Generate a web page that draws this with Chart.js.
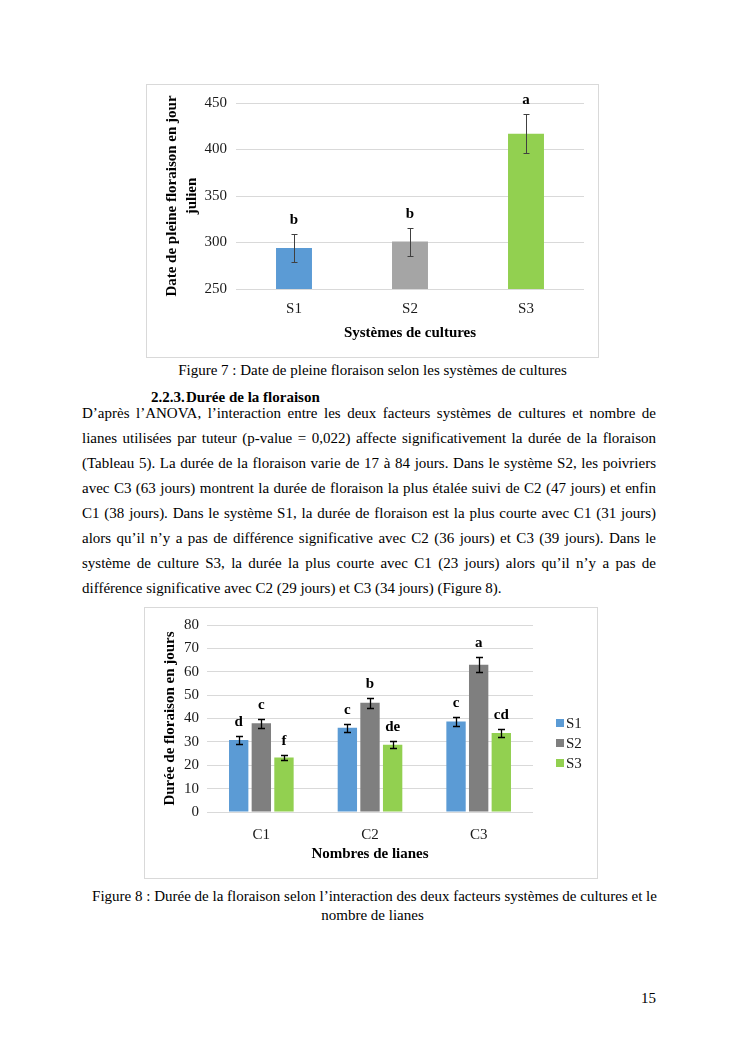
<!DOCTYPE html>
<html>
<head>
<meta charset="utf-8">
<script src="https://cdn.jsdelivr.net/npm/chart.js@4.4.0/dist/chart.umd.min.js"></script>
<style>
body { margin: 0; background: #fff; width: 745px; height: 1053px; position: relative; overflow: hidden;
       font-family: "Liberation Serif", "Times New Roman", serif; color: #000; }
canvas { position: absolute; outline: 1px solid #d9d9d9; }
.t { position: absolute; font-size: 15px; line-height: 18px; white-space: nowrap; }
.c { left: 0; width: 745px; text-align: center; }
.p { position: absolute; left: 82px; width: 574px; font-size: 15px; line-height: 18px; white-space: nowrap;
     text-align: justify; text-align-last: justify; }
.p.last { text-align-last: left; }
</style>
</head>
<body>

<canvas id="fig7" width="451" height="272" style="left:147px;top:85px"></canvas>
<div class="t c" style="top:361px">Figure 7 : Date de pleine floraison selon les systèmes de cultures</div>

<div class="t" style="top:388px;left:151px;font-weight:bold">2.2.3.</div>
<div class="t" style="top:388px;left:186px;font-weight:bold">Durée de la floraison</div>

<div class="p" style="top:404px">D’après l’ANOVA, l’interaction entre les deux facteurs systèmes de cultures et nombre de</div>
<div class="p" style="top:429px">lianes utilisées par tuteur (p-value = 0,022) affecte significativement la durée de la floraison</div>
<div class="p" style="top:454px">(Tableau 5). La durée de la floraison varie de 17 à 84 jours. Dans le système S2, les poivriers</div>
<div class="p" style="top:479px">avec C3 (63 jours) montrent la durée de floraison la plus étalée suivi de C2 (47 jours) et enfin</div>
<div class="p" style="top:504px">C1 (38 jours). Dans le système S1, la durée de floraison est la plus courte avec C1 (31 jours)</div>
<div class="p" style="top:529px">alors qu’il n’y a pas de différence significative avec C2 (36 jours) et C3 (39 jours). Dans le</div>
<div class="p" style="top:554px">système de culture S3, la durée la plus courte avec C1 (23 jours) alors qu’il n’y a pas de</div>
<div class="p last" style="top:579px">différence significative avec C2 (29 jours) et C3 (34 jours) (Figure 8).</div>

<canvas id="fig8" width="452" height="270" style="left:145px;top:608px"></canvas>
<div class="t c" style="top:887px;left:2px">Figure 8 : Durée de la floraison selon l’interaction des deux facteurs systèmes de cultures et le</div>
<div class="t c" style="top:906px">nombre de lianes</div>

<div class="t" style="top:989px;left:641px">15</div>

<script>
// Figure 7 - date de pleine floraison
const systems = ['S1', 'S2', 'S3'];
const floweringDate = [294, 301, 417];
const floweringDateErr = [15, 15, 21];
const floweringDateLetters = ['b', 'b', 'a'];

// Figure 8 - durée de floraison
const lianes = ['C1', 'C2', 'C3'];
const durationS1 = [30.8, 36, 38.7];
const durationS2 = [38, 46.7, 63];
const durationS3 = [23.3, 28.8, 33.8];
const errS1 = [1.5, 1.8, 1.8];
const errS2 = [2, 2.2, 3.2];
const errS3 = [1.2, 1.5, 1.6];
const lettersS1 = ['d', 'c', 'c'];
const lettersS2 = ['c', 'b', 'a'];
const lettersS3 = ['f', 'de', 'cd'];

const serif = '"Liberation Serif", "Times New Roman", serif';

// error bars + significance letters
const errorBars = {
    id: 'errorBars',
    afterDatasetsDraw(chart, args, opts) {
        const ctx = chart.ctx;
        const y = chart.scales.y;
        ctx.save();
        chart.data.datasets.forEach((ds, i) => {
            chart.getDatasetMeta(i).data.forEach((bar, j) => {
                const v = ds.data[j], e = ds.errors[j];
                const top = Math.round(y.getPixelForValue(v + e)) + 0.5;
                const bot = Math.round(y.getPixelForValue(v - e)) + 0.5;
                const x = Math.round(bar.x) + 0.5;
                ctx.strokeStyle = opts.color;
                ctx.lineWidth = opts.width;
                ctx.beginPath();
                ctx.moveTo(x, top); ctx.lineTo(x, bot);
                ctx.moveTo(x - opts.cap, top); ctx.lineTo(x + opts.cap, top);
                ctx.moveTo(x - opts.cap, bot); ctx.lineTo(x + opts.cap, bot);
                ctx.stroke();
                ctx.fillStyle = '#000';
                ctx.font = 'bold 15px ' + serif;
                ctx.textAlign = 'center';
                ctx.textBaseline = 'middle';
                ctx.fillText(ds.letters[j], bar.x, top - opts.lift);
            });
        });
        ctx.restore();
    }
};

// legend on the right, Excel style
const sideLegend = {
    id: 'sideLegend',
    afterDraw(chart, args, opts) {
        const ctx = chart.ctx;
        ctx.save();
        ctx.font = '15px ' + serif;
        ctx.textBaseline = 'middle';
        chart.data.datasets.forEach((ds, i) => {
            const yy = opts.y + i * opts.gap;
            ctx.fillStyle = ds.backgroundColor;
            ctx.fillRect(opts.x, yy - 4, 8, 8);
            ctx.fillStyle = '#1a1a1a';
            ctx.fillText(ds.label, opts.x + 10, yy + 1);
        });
        ctx.restore();
    }
};

new Chart(document.getElementById('fig7'), {
    type: 'bar',
    data: {
        labels: systems,
        datasets: [{
            data: floweringDate,
            errors: floweringDateErr,
            letters: floweringDateLetters,
            backgroundColor: ['#5B9BD5', '#A5A5A5', '#92D050'],
            categoryPercentage: 1,
            barPercentage: 0.31
        }]
    },
    options: {
        responsive: false,
        devicePixelRatio: 1,
        animation: false,
        layout: { padding: { top: 17, right: 14, left: 0, bottom: 0 } },
        plugins: {
            legend: { display: false },
            tooltip: { enabled: false },
            errorBars: { color: '#404040', width: 1, cap: 3, lift: 14 }
        },
        scales: {
            x: {
                grid: { display: false, drawTicks: false },
                border: { display: false },
                ticks: { color: '#1a1a1a', padding: 11, font: { family: serif, size: 15 } },
                title: { display: true, text: 'Systèmes de cultures', color: '#000',
                         padding: { top: 0, bottom: 15 }, font: { family: serif, size: 15, weight: 'bold' } },
                afterFit: s => { s.height = 68; }
            },
            y: {
                min: 250, max: 450,
                ticks: { stepSize: 50, color: '#1a1a1a', padding: 9, font: { family: serif, size: 15 } },
                grid: { color: '#d9d9d9', drawTicks: false },
                border: { display: false },
                title: { display: true, text: ['Date de pleine floraison en jour', 'julien'], color: '#000',
                         padding: { top: 15, bottom: 0 },
                         font: { family: serif, size: 15, weight: 'bold', lineHeight: 1.33 } },
                afterFit: s => { s.width = 89; }
            }
        }
    },
    plugins: [errorBars]
});

new Chart(document.getElementById('fig8'), {
    type: 'bar',
    data: {
        labels: lianes,
        datasets: [
            { label: 'S1', data: durationS1, errors: errS1, letters: lettersS1, backgroundColor: '#5B9BD5' },
            { label: 'S2', data: durationS2, errors: errS2, letters: lettersS2, backgroundColor: '#7F7F7F' },
            { label: 'S3', data: durationS3, errors: errS3, letters: lettersS3, backgroundColor: '#92D050' }
        ]
    },
    options: {
        responsive: false,
        devicePixelRatio: 1,
        animation: false,
        datasets: { bar: { categoryPercentage: 0.625, barPercentage: 0.855 } },
        layout: { padding: { top: 15, right: 64, left: 0, bottom: 0 } },
        plugins: {
            legend: { display: false },
            tooltip: { enabled: false },
            errorBars: { color: '#000', width: 1.3, cap: 3.5, lift: 14 },
            sideLegend: { x: 411, y: 115, gap: 20 }
        },
        scales: {
            x: {
                grid: { display: false, drawTicks: false },
                border: { display: false },
                ticks: { color: '#1a1a1a', padding: 14, font: { family: serif, size: 15 } },
                title: { display: true, text: 'Nombres de lianes', color: '#000',
                         padding: { top: 0, bottom: 15 }, font: { family: serif, size: 15, weight: 'bold' } },
                afterFit: s => { s.height = 66; }
            },
            y: {
                min: 0, max: 80,
                ticks: { stepSize: 10, color: '#1a1a1a', padding: 8, font: { family: serif, size: 15 } },
                grid: { color: '#d9d9d9', drawTicks: false },
                border: { display: false },
                title: { display: true, text: 'Durée de floraison en jours', color: '#000',
                         padding: { top: 16, bottom: 0 }, font: { family: serif, size: 15, weight: 'bold' } },
                afterFit: s => { s.width = 62; }
            }
        }
    },
    plugins: [errorBars, sideLegend]
});
</script>
</body>
</html>
